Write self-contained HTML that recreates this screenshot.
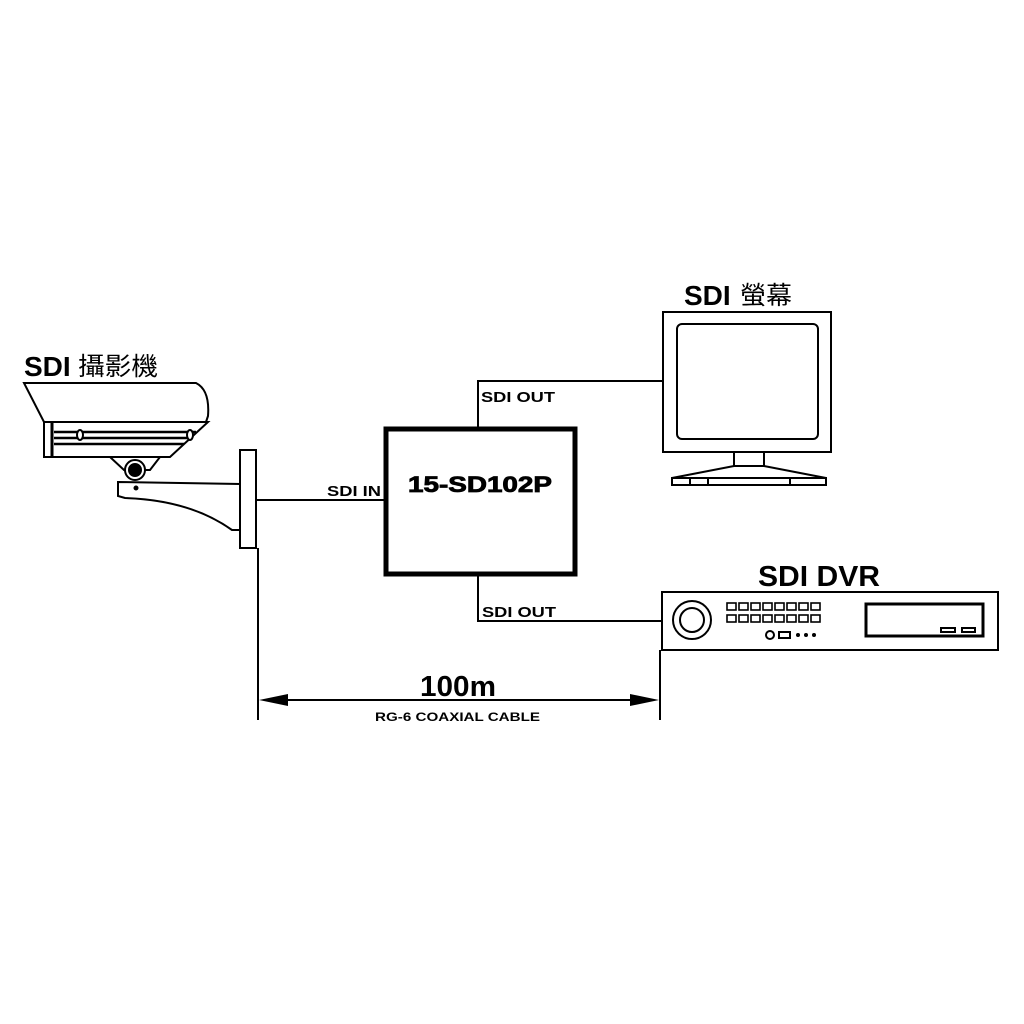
<!DOCTYPE html>
<html><head><meta charset="utf-8"><style>html,body{margin:0;padding:0;background:#fff}svg{display:block}</style></head>
<body>
<svg width="1024" height="1024" viewBox="0 0 1024 1024" xmlns="http://www.w3.org/2000/svg" font-family="Liberation Sans, Arial, sans-serif">
<rect width="1024" height="1024" fill="#fff"/>
<g fill="none" stroke="#000" stroke-width="2">
<!-- camera -->
<path d="M24,383 L196,383 Q210,390 208,416 L206,422 L44,422 Z" fill="#fff"/>
<path d="M44,422 L208,422 L170,457 L44,457 Z" fill="#fff"/>
<line x1="52" y1="422" x2="52" y2="457" stroke-width="3"/>
<line x1="54" y1="432" x2="196" y2="432" stroke-width="2.5"/>
<line x1="54" y1="438" x2="190" y2="438" stroke-width="2.5"/>
<line x1="54" y1="444" x2="184" y2="444" stroke-width="2.5"/>
<ellipse cx="80" cy="435" rx="3" ry="5" fill="#fff"/>
<ellipse cx="190" cy="435" rx="3" ry="5" fill="#fff"/>
<path d="M110,457 L160,457 L150,470 L124,470 Z" fill="#fff"/>
<circle cx="135" cy="470" r="10" fill="#fff"/>
<circle cx="135" cy="470" r="6" fill="#000"/>
<path d="M118,482 L240,484 L240,530 L232,530 Q190,500 125,498 L118,496 Z" fill="#fff"/>
<circle cx="136" cy="488" r="1.5" fill="#000"/>
<rect x="240" y="450" width="16" height="98" fill="#fff"/>
<!-- connections -->
<line x1="256" y1="500" x2="384" y2="500"/>
<polyline points="478,427 478,381 663,381"/>
<polyline points="478,575 478,621 662,621"/>
<!-- dimension -->
<line x1="258" y1="548" x2="258" y2="720"/>
<line x1="660" y1="650" x2="660" y2="720"/>
<line x1="270" y1="700" x2="648" y2="700"/>
</g>
<polygon points="259,700 288,694 288,706" fill="#000"/>
<polygon points="659,700 630,694 630,706" fill="#000"/>
<rect x="386" y="429" width="189" height="145" fill="none" stroke="#000" stroke-width="5"/>
<!-- monitor -->
<g fill="#fff" stroke="#000" stroke-width="2">
<rect x="663" y="312" width="168" height="140"/>
<rect x="677" y="324" width="141" height="115" rx="5"/>
<rect x="734" y="452" width="30" height="14"/>
<path d="M734,466 L764,466 L826,478 L672,478 Z"/>
<rect x="672" y="478" width="154" height="7"/>
<line x1="690" y1="478" x2="690" y2="485"/><line x1="708" y1="478" x2="708" y2="485"/><line x1="790" y1="478" x2="790" y2="485"/>
<!-- dvr -->
<rect x="662" y="592" width="336" height="58"/>
<circle cx="692" cy="620" r="19"/>
<circle cx="692" cy="620" r="12"/>
<rect x="866" y="604" width="117" height="32" stroke-width="3"/>
<rect x="941" y="628" width="14" height="4"/><rect x="962" y="628" width="13" height="4"/>
<circle cx="770" cy="635" r="4"/><rect x="779" y="632" width="11" height="6"/>
</g>
<g fill="#fff" stroke="#000" stroke-width="1.6">
<rect x="727" y="603" width="9" height="7"/><rect x="739" y="603" width="9" height="7"/><rect x="751" y="603" width="9" height="7"/><rect x="763" y="603" width="9" height="7"/><rect x="775" y="603" width="9" height="7"/><rect x="787" y="603" width="9" height="7"/><rect x="799" y="603" width="9" height="7"/><rect x="811" y="603" width="9" height="7"/>
<rect x="727" y="615" width="9" height="7"/><rect x="739" y="615" width="9" height="7"/><rect x="751" y="615" width="9" height="7"/><rect x="763" y="615" width="9" height="7"/><rect x="775" y="615" width="9" height="7"/><rect x="787" y="615" width="9" height="7"/><rect x="799" y="615" width="9" height="7"/><rect x="811" y="615" width="9" height="7"/>
</g>
<circle cx="798" cy="635" r="2" fill="#000"/><circle cx="806" cy="635" r="2" fill="#000"/><circle cx="814" cy="635" r="2" fill="#000"/>
<!-- text -->
<g font-weight="bold" fill="#000">
<text x="24" y="376" font-size="28">SDI</text>
<text x="78" y="375" font-weight="normal" font-family="Liberation Sans, Noto Sans CJK TC, sans-serif" font-size="25" textLength="80" lengthAdjust="spacingAndGlyphs">攝影機</text>
<text x="684" y="305" font-size="28">SDI</text>
<text x="740" y="304" font-weight="normal" font-family="Liberation Sans, Noto Sans CJK TC, sans-serif" font-size="25" textLength="52" lengthAdjust="spacingAndGlyphs">螢幕</text>
<text x="758" y="586" font-size="29" textLength="122" lengthAdjust="spacingAndGlyphs">SDI DVR</text>
<text x="408" y="492" font-size="22" stroke="#000" stroke-width="0.8" textLength="144" lengthAdjust="spacingAndGlyphs">15-SD102P</text>
<text x="327" y="496" font-size="15" textLength="54" lengthAdjust="spacingAndGlyphs">SDI IN</text>
<text x="481" y="402" font-size="15" textLength="74" lengthAdjust="spacingAndGlyphs">SDI OUT</text>
<text x="482" y="617" font-size="15" textLength="74" lengthAdjust="spacingAndGlyphs">SDI OUT</text>
<text x="420" y="696" font-size="29" textLength="76" lengthAdjust="spacingAndGlyphs">100m</text>
<text x="375" y="721" font-size="12" textLength="165" lengthAdjust="spacingAndGlyphs">RG-6 COAXIAL CABLE</text>
</g>
</svg>
</body></html>
